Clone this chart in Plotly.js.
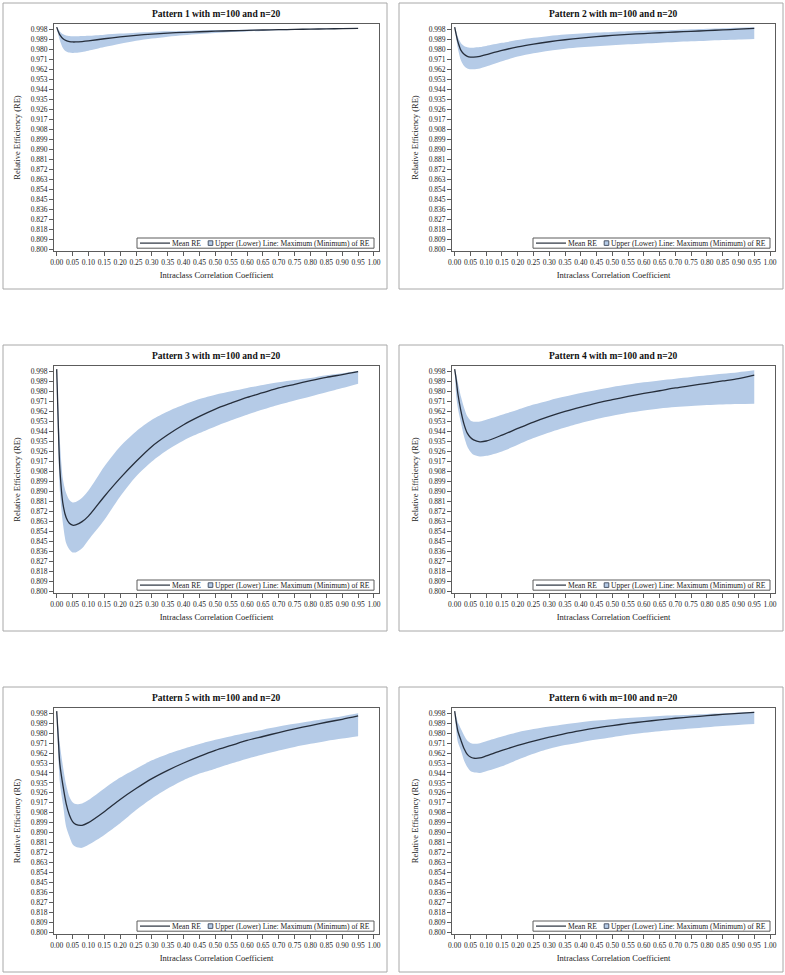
<!DOCTYPE html>
<html>
<head>
<meta charset="utf-8">
<script src="https://cdn.plot.ly/plotly-3.0.1.min.js"></script>
<style>
  html, body { margin: 0; padding: 0; background: #ffffff; }
  #plot { width: 785px; height: 975px; }
</style>
</head>
<body>
<div id="plot"></div>
<script>
// ICC values (x) shared by all six panels
var icc = [0, 0.005, 0.01, 0.02, 0.03, 0.04, 0.05, 0.06, 0.08, 0.10, 0.15, 0.20, 0.25, 0.30,
           0.35, 0.40, 0.45, 0.50, 0.55, 0.60, 0.65, 0.70, 0.75, 0.80, 0.85, 0.90, 0.95];

// Pattern 1
var mean1  = [1.0, 0.996, 0.993, 0.9895, 0.9878, 0.987, 0.9866, 0.9866, 0.987, 0.9876, 0.9895, 0.9912, 0.9926, 0.9937,
              0.9946, 0.9953, 0.9958, 0.9963, 0.9967, 0.9971, 0.9974, 0.9977, 0.9979, 0.9982, 0.9984, 0.9986, 0.9988];
var upper1 = [1.0, 0.998, 0.996, 0.9935, 0.9925, 0.992, 0.9918, 0.9918, 0.992, 0.9922, 0.9932, 0.9942, 0.995, 0.9957,
              0.9962, 0.9966, 0.997, 0.9973, 0.9975, 0.9977, 0.9979, 0.9981, 0.9983, 0.9985, 0.9987, 0.9989, 0.999];
var lower1 = [1.0, 0.993, 0.988, 0.981, 0.978, 0.977, 0.9767, 0.9768, 0.9775, 0.9787, 0.982, 0.985, 0.9876, 0.9897,
              0.9914, 0.9927, 0.9938, 0.9947, 0.9955, 0.9961, 0.9966, 0.9971, 0.9975, 0.9978, 0.9981, 0.9984, 0.9986];

// Pattern 2
var mean2  = [1.0, 0.993, 0.987, 0.979, 0.9755, 0.9737, 0.973, 0.9729, 0.9737, 0.9752, 0.979, 0.9822, 0.9847, 0.9868,
              0.9886, 0.9901, 0.9914, 0.9925, 0.9934, 0.9942, 0.9949, 0.9956, 0.9962, 0.9968, 0.9975, 0.9981, 0.9988];
var upper2 = [1.0, 0.996, 0.991, 0.9855, 0.983, 0.9818, 0.9814, 0.9815, 0.982, 0.983, 0.9858, 0.9883, 0.9903, 0.992,
              0.9933, 0.9943, 0.9951, 0.9957, 0.9962, 0.9967, 0.9971, 0.9975, 0.998, 0.9985, 0.999, 0.9995, 0.9998];
var lower2 = [1.0, 0.99, 0.981, 0.97, 0.965, 0.9628, 0.962, 0.962, 0.9628, 0.9645, 0.9692, 0.9735, 0.9765, 0.9788,
              0.9805, 0.9818, 0.9828, 0.9836, 0.9845, 0.9853, 0.986, 0.9866, 0.9872, 0.9877, 0.9883, 0.9888, 0.9893];

// Pattern 3
var mean3  = [1.0, 0.95, 0.91, 0.878, 0.866, 0.861, 0.8593, 0.8595, 0.8625, 0.8675, 0.8852, 0.9017, 0.9167, 0.9303,
              0.9408, 0.9499, 0.9574, 0.964, 0.9694, 0.9745, 0.9787, 0.983, 0.9863, 0.9896, 0.9926, 0.995, 0.9977];
var upper3 = [1.0, 0.965, 0.935, 0.90, 0.888, 0.882, 0.8798, 0.8802, 0.884, 0.8905, 0.9123, 0.9303, 0.9438, 0.9544,
              0.9619, 0.9679, 0.973, 0.9769, 0.980, 0.983, 0.9856, 0.9881, 0.9901, 0.992, 0.9945, 0.9962, 0.9985];
var lower3 = [1.0, 0.93, 0.89, 0.860, 0.843, 0.8375, 0.8348, 0.8348, 0.8385, 0.846, 0.864, 0.8852, 0.9032, 0.9167,
              0.9273, 0.9357, 0.9423, 0.9483, 0.9538, 0.9589, 0.9636, 0.9679, 0.9718, 0.9754, 0.9791, 0.983, 0.9869];

// Pattern 4
var mean4  = [1.0, 0.99, 0.978, 0.962, 0.950, 0.9423, 0.9384, 0.9362, 0.9345, 0.9352, 0.9405, 0.9465, 0.9523, 0.9574,
              0.9619, 0.9658, 0.9694, 0.9724, 0.9754, 0.9781, 0.9805, 0.983, 0.9851, 0.9872, 0.9893, 0.9914, 0.9945];
var upper4 = [1.0, 0.995, 0.988, 0.975, 0.965, 0.9574, 0.9537, 0.9526, 0.9528, 0.9544, 0.9589, 0.9634, 0.968, 0.9718,
              0.9752, 0.9784, 0.9812, 0.9839, 0.9861, 0.9881, 0.9898, 0.9914, 0.9929, 0.9944, 0.9958, 0.9972, 0.9989];
var lower4 = [1.0, 0.975, 0.965, 0.9514, 0.939, 0.9303, 0.9255, 0.9228, 0.9213, 0.9218, 0.9258, 0.9318, 0.9378, 0.9429,
              0.9474, 0.9514, 0.955, 0.958, 0.9606, 0.9628, 0.9645, 0.9658, 0.9668, 0.9676, 0.9681, 0.9685, 0.9688];

// Pattern 5
var mean5  = [1.0, 0.975, 0.952, 0.932, 0.916, 0.9059, 0.8999, 0.8975, 0.8966, 0.899, 0.9089, 0.92, 0.9299, 0.9389,
              0.9464, 0.953, 0.959, 0.9644, 0.9689, 0.9734, 0.977, 0.9806, 0.9839, 0.9869, 0.9899, 0.9926, 0.9956];
var upper5 = [1.0, 0.985, 0.97, 0.9494, 0.933, 0.9224, 0.9175, 0.9158, 0.9164, 0.9194, 0.9299, 0.9398, 0.9479, 0.9554,
              0.9612, 0.9659, 0.9702, 0.974, 0.9773, 0.9803, 0.9832, 0.986, 0.9885, 0.9908, 0.993, 0.9954, 0.998];
var lower5 = [1.0, 0.96, 0.935, 0.915, 0.895, 0.8864, 0.8795, 0.8772, 0.8762, 0.8789, 0.8879, 0.8984, 0.9104, 0.9209,
              0.9299, 0.9374, 0.9434, 0.9479, 0.9525, 0.9569, 0.9608, 0.9644, 0.9676, 0.9704, 0.973, 0.9752, 0.9773];

// Pattern 6
var mean6  = [1.0, 0.99, 0.982, 0.9735, 0.9659, 0.9608, 0.9584, 0.9574, 0.9576, 0.9594, 0.9644, 0.9689, 0.9728, 0.9764,
              0.9797, 0.9824, 0.9848, 0.9869, 0.9888, 0.9905, 0.992, 0.9935, 0.9947, 0.9959, 0.997, 0.998, 0.9989];
var upper6 = [1.0, 0.995, 0.99, 0.9839, 0.978, 0.9734, 0.9712, 0.9704, 0.971, 0.9728, 0.977, 0.9809, 0.9837, 0.986,
              0.9881, 0.9899, 0.9914, 0.9926, 0.9937, 0.9947, 0.9955, 0.9962, 0.9968, 0.9974, 0.998, 0.9987, 0.9995];
var lower6 = [1.0, 0.982, 0.972, 0.9644, 0.955, 0.9494, 0.9458, 0.9446, 0.944, 0.9455, 0.95, 0.956, 0.9614, 0.9659,
              0.9692, 0.9719, 0.9743, 0.9764, 0.9785, 0.9803, 0.9818, 0.983, 0.9842, 0.9854, 0.9865, 0.9875, 0.9884];

var titles = ["Pattern 1 with m=100 and n=20", "Pattern 2 with m=100 and n=20", "Pattern 3 with m=100 and n=20",
              "Pattern 4 with m=100 and n=20", "Pattern 5 with m=100 and n=20", "Pattern 6 with m=100 and n=20"];
var legendLabels = ["Mean RE", "Upper (Lower) Line: Maximum (Minimum) of RE"];
var means = [mean1, mean2, mean3, mean4, mean5, mean6];
var uppers = [upper1, upper2, upper3, upper4, upper5, upper6];
var lowers = [lower1, lower2, lower3, lower4, lower5, lower6];

var W = 785, H = 975;
var serif = "Liberation Serif, Times New Roman, serif";
var bandColor = "#b5cbe7";
var lineColor = "#262e3b";
var frameColor = "#5c5c5c";

// pixel boxes of the plot areas and panel frames
var colPlot = [[54, 379], [452, 775]];
var rowPlot = [[24, 251], [366, 593], [708, 934]];
var colBox = [[3, 387], [399, 783]];
var rowBox = [[3, 289], [345, 631], [687, 972]];

function px(v) { return v / W; }
function py(v) { return 1 - v / H; }

var traces = [];
var layout = {
  width: W, height: H,
  margin: {l: 0, r: 0, t: 0, b: 0},
  paper_bgcolor: "white",
  plot_bgcolor: "white",
  font: {family: serif, color: "#222"},
  showlegend: false,
  shapes: [],
  annotations: []
};

for (var k = 0; k < 6; k++) {
  var c = k % 2, r = Math.floor(k / 2);
  var n = k + 1;
  var xa = "x" + (n === 1 ? "" : n), ya = "y" + (n === 1 ? "" : n);

  // band: upper edge, then lower edge filled up to it
  traces.push({x: icc, y: uppers[k], xaxis: xa, yaxis: ya, type: "scatter", mode: "lines",
    name: legendLabels[1], line: {width: 0, color: bandColor, shape: "spline", smoothing: 0.8}, hoverinfo: "skip"});
  traces.push({x: icc, y: lowers[k], xaxis: xa, yaxis: ya, type: "scatter", mode: "lines",
    name: legendLabels[1], fill: "tonexty", fillcolor: bandColor,
    line: {width: 0, color: bandColor, shape: "spline", smoothing: 0.8}, hoverinfo: "skip"});
  // mean line
  traces.push({x: icc, y: means[k], xaxis: xa, yaxis: ya, type: "scatter", mode: "lines",
    name: legendLabels[0], line: {width: 1.3, color: lineColor, shape: "spline", smoothing: 0.8}});

  var axCommon = {
    showline: true, mirror: true, linecolor: frameColor, linewidth: 1,
    showgrid: false, zeroline: false,
    ticks: "outside", ticklen: 4, tickwidth: 1, tickcolor: frameColor,
    tickfont: {family: serif, size: 7.5, color: "#222"}
  };
  layout["xaxis" + (n === 1 ? "" : n)] = Object.assign({}, axCommon, {
    domain: [px(colPlot[c][0]), px(colPlot[c][1])],
    anchor: ya,
    range: [-0.0085, 1.0158],
    tickmode: "linear", tick0: 0, dtick: 0.05, tickformat: ".2f",
    title: {text: "Intraclass Correlation Coefficient", font: {family: serif, size: 8.5, color: "#222"}, standoff: 6}
  });
  layout["yaxis" + (n === 1 ? "" : n)] = Object.assign({}, axCommon, {
    domain: [py(rowPlot[r][1]), py(rowPlot[r][0])],
    anchor: xa,
    range: [0.7982, 1.0028],
    tickmode: "linear", tick0: 0.8, dtick: 0.009, tickformat: ".3f",
    title: {text: "Relative Efficiency (RE)", font: {family: serif, size: 8.5, color: "#222"}, standoff: 8}
  });

  // panel frame
  layout.shapes.push({type: "rect", xref: "paper", yref: "paper", layer: "below",
    x0: px(colBox[c][0]), x1: px(colBox[c][1]), y0: py(rowBox[r][1]), y1: py(rowBox[r][0]),
    line: {color: "#a8a8a8", width: 1}});
  // panel title
  layout.annotations.push({text: "<b>" + titles[k] + "</b>", xref: "paper", yref: "paper",
    x: px((colPlot[c][0] + colPlot[c][1]) / 2), y: py(rowPlot[r][0] - 10),
    xanchor: "center", yanchor: "middle", showarrow: false,
    font: {family: serif, size: 9.5, color: "#111"}});

  // compact legend box in the lower right corner of the plot area
  var R = colPlot[c][1], B = rowPlot[r][1];
  var lt = B - 13, lb = B - 2.8, lm = (lt + lb) / 2;
  layout.shapes.push({type: "rect", xref: "paper", yref: "paper",
    x0: px(R - 242), x1: px(R - 5), y0: py(lb), y1: py(lt),
    fillcolor: "white", line: {color: frameColor, width: 1}});
  layout.shapes.push({type: "line", xref: "paper", yref: "paper",
    x0: px(R - 239), x1: px(R - 209), y0: py(lm), y1: py(lm),
    line: {color: lineColor, width: 1.2}});
  layout.shapes.push({type: "rect", xref: "paper", yref: "paper",
    x0: px(R - 170.8), x1: px(R - 166.2), y0: py(lm + 2.3), y1: py(lm - 2.3),
    fillcolor: bandColor, line: {color: "#4a5568", width: 1}});
  layout.annotations.push({text: legendLabels[0], xref: "paper", yref: "paper",
    x: px(R - 208), y: py(lm), xanchor: "left", yanchor: "middle", showarrow: false, borderpad: 0,
    font: {family: serif, size: 7.6, color: "#222"}});
  layout.annotations.push({text: legendLabels[1], xref: "paper", yref: "paper",
    x: px(R - 165), y: py(lm), xanchor: "left", yanchor: "middle", showarrow: false, borderpad: 0,
    font: {family: serif, size: 7.6, color: "#222"}});
}

Plotly.newPlot("plot", traces, layout, {displayModeBar: false, staticPlot: true});
</script>
</body>
</html>
